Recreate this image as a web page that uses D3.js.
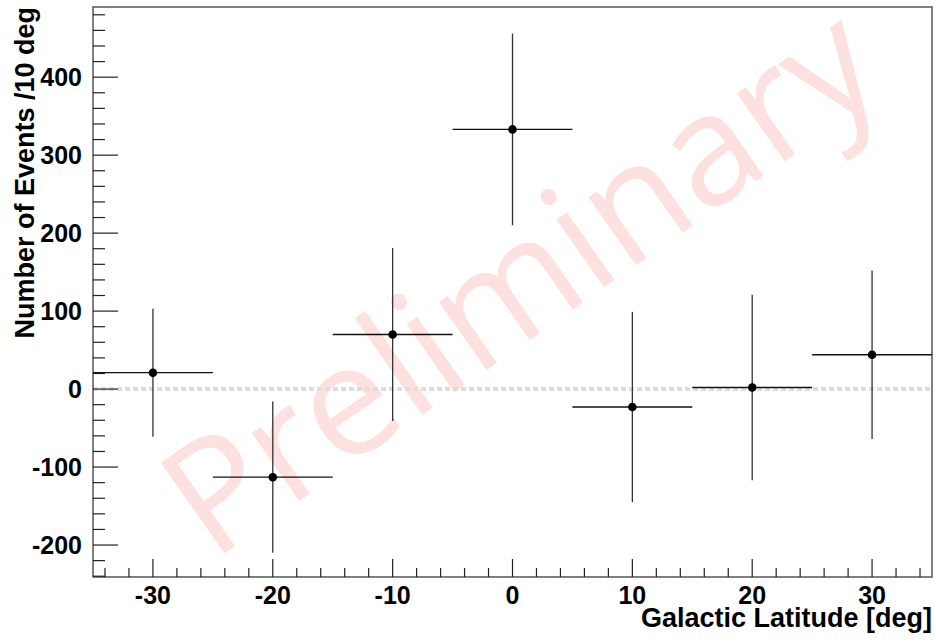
<!DOCTYPE html>
<html>
<head>
<meta charset="utf-8">
<script src="https://cdn.jsdelivr.net/npm/d3@7"></script>
<style>
  body { margin: 0; background: #fff; }
  svg text { font-family: "Liberation Sans", Arial, sans-serif; font-weight: bold; }
</style>
</head>
<body>
<div id="chart"></div>
<script>
// Data (bin centre, counts, error)
var latitude = [-30, -20, -10, 0, 10, 20, 30];
var events = [21, -113, 70, 333, -23, 2, 44];
var errors = [82, 97, 111, 123, 122, 119, 108];
var binHalfWidth = 5;
var xTickValues = [-30, -20, -10, 0, 10, 20, 30];
var yTickValues = [-200, -100, 0, 100, 200, 300, 400];

var width = 936, height = 643;
var margin = {top: 7, right: 4, bottom: 66, left: 93};

var x = d3.scaleLinear().domain([-35, 35]).range([margin.left, width - margin.right]);
var y = d3.scaleLinear().domain([-241, 490]).range([height - margin.bottom, margin.top]);

var svg = d3.select('#chart').append('svg')
  .attr('width', width)
  .attr('height', height);

// Watermark
svg.append('text')
  .attr('transform', 'translate(212,562) rotate(-35)')
  .style('font-family', '"Open Sans", sans-serif')
  .style('font-weight', 'normal')
  .style('font-size', '155px')
  .attr('fill', '#fde0e0')
  .text('Preliminary');

// Zero line
svg.append('line')
  .attr('x1', x(-35)).attr('x2', x(35))
  .attr('y1', y(0)).attr('y2', y(0))
  .attr('stroke', '#dedede')
  .attr('stroke-width', 4)
  .attr('stroke-dasharray', '5,3');

// Frame
svg.append('rect')
  .attr('x', x(-35)).attr('y', y(490))
  .attr('width', x(35) - x(-35))
  .attr('height', y(-241) - y(490))
  .attr('fill', 'none')
  .attr('stroke', '#555')
  .attr('stroke-width', 1.5);

// X axis ticks (drawn inwards)
var xMinor = d3.range(-34, 35, 2);
svg.selectAll('.xtick')
  .data(xMinor)
  .enter().append('line')
  .attr('x1', function(d) { return x(d); })
  .attr('x2', function(d) { return x(d); })
  .attr('y1', y(-241))
  .attr('y2', function(d) { return y(-241) - (d % 10 === 0 ? 18 : 9); })
  .attr('stroke', '#222')
  .attr('stroke-width', 1.2);

svg.selectAll('.xlabel')
  .data(xTickValues)
  .enter().append('text')
  .attr('x', function(d) { return x(d); })
  .attr('y', 604)
  .attr('text-anchor', 'middle')
  .style('font-size', '25px')
  .text(function(d) { return d; });

// Y axis ticks
var yMinor = d3.range(-240, 481, 20);
svg.selectAll('.ytick')
  .data(yMinor)
  .enter().append('line')
  .attr('x1', x(-35))
  .attr('x2', function(d) { return x(-35) + (d % 100 === 0 ? 25 : 12); })
  .attr('y1', function(d) { return y(d); })
  .attr('y2', function(d) { return y(d); })
  .attr('stroke', '#222')
  .attr('stroke-width', 1.2);

svg.selectAll('.ylabel')
  .data(yTickValues)
  .enter().append('text')
  .attr('x', 82)
  .attr('y', function(d) { return y(d) + 9; })
  .attr('text-anchor', 'end')
  .style('font-size', '25px')
  .text(function(d) { return d; });

// Axis titles
svg.append('text')
  .attr('x', 932)
  .attr('y', 627)
  .attr('text-anchor', 'end')
  .style('font-size', '27px')
  .text('Galactic Latitude [deg]');

svg.append('text')
  .attr('transform', 'translate(34,7) rotate(-90)')
  .attr('text-anchor', 'end')
  .style('font-size', '27px')
  .text('Number of Events /10 deg');

// Data points with error bars
var pts = svg.selectAll('.pt')
  .data(latitude)
  .enter().append('g');

pts.append('line')
  .attr('x1', function(d) { return x(d - binHalfWidth); })
  .attr('x2', function(d) { return x(d + binHalfWidth); })
  .attr('y1', function(d, i) { return y(events[i]); })
  .attr('y2', function(d, i) { return y(events[i]); })
  .attr('stroke', '#111')
  .attr('stroke-width', 1.3);

pts.append('line')
  .attr('x1', function(d) { return x(d); })
  .attr('x2', function(d) { return x(d); })
  .attr('y1', function(d, i) { return y(events[i] - errors[i]); })
  .attr('y2', function(d, i) { return y(events[i] + errors[i]); })
  .attr('stroke', '#333')
  .attr('stroke-width', 1.3);

pts.append('circle')
  .attr('cx', function(d) { return x(d); })
  .attr('cy', function(d, i) { return y(events[i]); })
  .attr('r', 4.3)
  .attr('fill', '#000');
</script>
</body>
</html>
